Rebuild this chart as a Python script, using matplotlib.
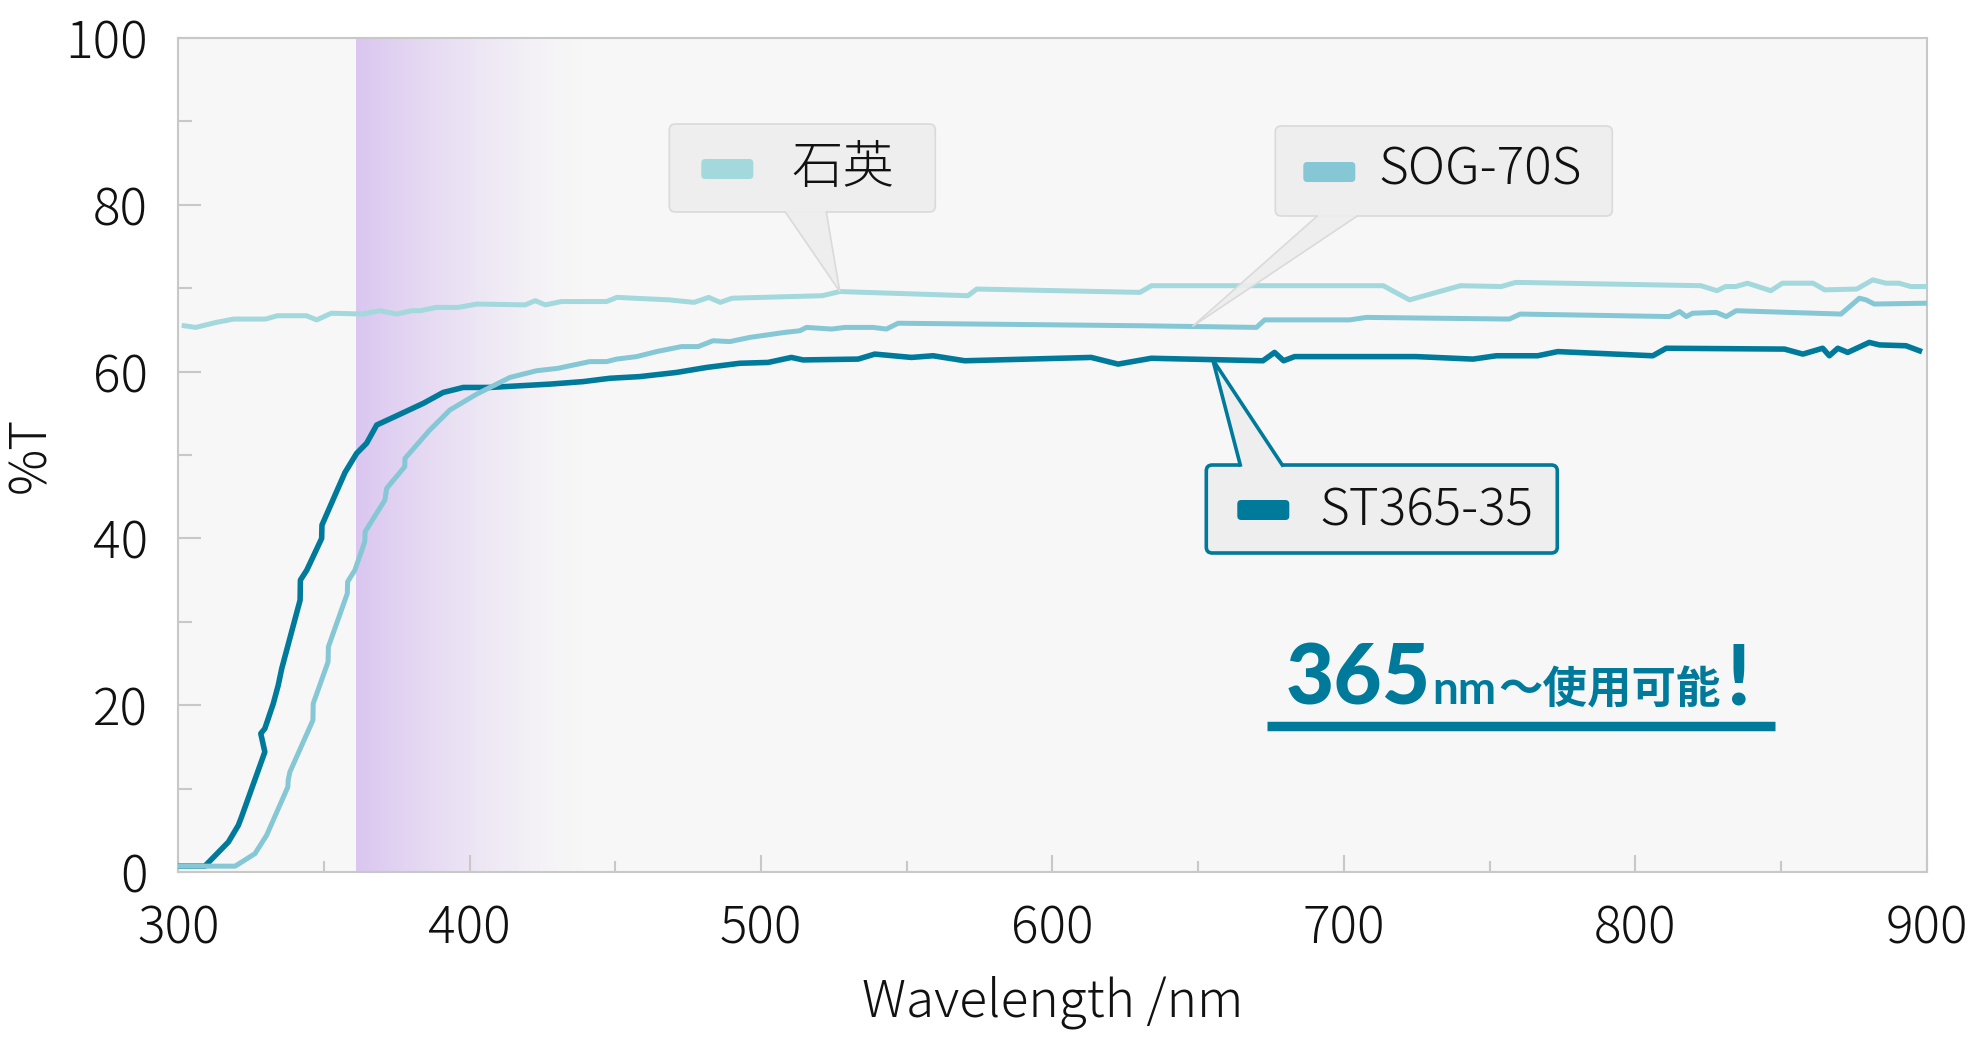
import numpy as np
import matplotlib
matplotlib.use("Agg")
import matplotlib.pyplot as plt
from matplotlib.patches import FancyBboxPatch, Polygon
from matplotlib.lines import Line2D
from matplotlib.transforms import Affine2D
from matplotlib.ticker import MultipleLocator

plt.rcParams['font.family'] = ['Noto Sans CJK JP', 'DejaVu Sans']

# transmission curves (wavelength nm, %T)
quartz_x = [302, 306, 313, 319, 330, 334, 344, 347.5, 352.5, 363.5,
            369, 375, 380, 383, 388.5, 396, 402.5, 419, 422.5, 426,
            431.5, 447, 450.5, 468.5, 477, 482, 486, 490, 521, 527,
            571, 574, 630, 634, 713.5, 722.5, 740, 754, 759, 822.5,
            828, 831, 834.5, 838.5, 846.5, 850.5, 861, 865, 876, 881.5,
            886, 890.5, 894.5, 899.5]
quartz_y = [65.5, 65.3, 65.9, 66.3, 66.3, 66.7, 66.7, 66.2, 67.0, 66.9,
            67.3, 66.9, 67.3, 67.3, 67.7, 67.7, 68.1, 68.0, 68.5, 68.0,
            68.4, 68.4, 68.9, 68.6, 68.3, 68.9, 68.3, 68.8, 69.1, 69.6,
            69.1, 69.9, 69.5, 70.3, 70.3, 68.6, 70.3, 70.2, 70.7, 70.3,
            69.7, 70.2, 70.2, 70.6, 69.7, 70.6, 70.6, 69.8, 69.9, 71.0,
            70.6, 70.6, 70.2, 70.2]

sog_x = [300, 319.5, 326.3, 330.3, 337.6, 337.7, 338.3, 346.2, 346.3, 351.4,
         351.5, 358.0, 358.1, 360.6, 364.0, 364.1, 370.9, 371.5, 377.7, 377.8,
         386.3, 391.5, 393.2, 402.4, 413.8, 422.9, 430.4, 434.4, 441.2, 447,
         450.4, 457.3, 464.1, 472.7, 478.4, 483.5, 489.3, 496.1, 508.1, 513.3,
         515.6, 524.2, 528.7, 538.4, 543, 547, 630, 670, 672.8, 702,
         707.7, 756.8, 760.5, 811.7, 815.2, 817.5, 819.7, 827.8, 831.2, 834.6,
         870.6, 876.9, 879.2, 882, 899.5]
sog_y = [0.7, 0.7, 2.2, 4.4, 10.2, 11.0, 12.0, 18.2, 20.2, 25.2,
         27.0, 33.4, 34.8, 36.2, 39.6, 40.8, 44.6, 46.0, 48.6, 49.6,
         53.0, 54.8, 55.4, 57.3, 59.3, 60.1, 60.4, 60.7, 61.2, 61.2,
         61.5, 61.8, 62.4, 63.0, 63.0, 63.7, 63.6, 64.1, 64.7, 64.9,
         65.3, 65.1, 65.3, 65.3, 65.1, 65.8, 65.5, 65.3, 66.2, 66.2,
         66.5, 66.3, 66.9, 66.6, 67.2, 66.6, 67.0, 67.1, 66.6, 67.3,
         66.9, 68.8, 68.6, 68.1, 68.2]

st_x = [300, 309.1, 317.2, 320.6, 321.7, 329.7, 328.3, 329.7, 332.6, 334.3,
        335.5, 341.8, 341.9, 344.1, 349.2, 349.3, 354.3, 357.2, 361.2, 364.6,
        368.1, 374.9, 384.1, 390.9, 397.8, 406.9, 427.5, 438.9, 448.1, 458.3,
        471, 481.3, 492.7, 502.4, 510.4, 514.4, 533.3, 539, 551.6, 559,
        569.9, 613.3, 622.5, 633.9, 672.2, 676.2, 679.3, 683.1, 724.8, 744.3,
        752.3, 766.5, 773.4, 806, 810.6, 851.2, 857.5, 864.3, 866.6, 869.5,
        872.9, 880.3, 883.8, 892.9, 897.5]
st_y = [0.7, 0.7, 3.6, 5.6, 6.6, 14.4, 16.6, 17.2, 20.2, 22.4,
        24.4, 32.6, 35.0, 36.2, 40.0, 41.6, 45.6, 47.9, 50.2, 51.4,
        53.6, 54.7, 56.2, 57.5, 58.1, 58.1, 58.5, 58.8, 59.2, 59.4,
        59.9, 60.5, 61.0, 61.1, 61.7, 61.4, 61.5, 62.1, 61.7, 61.9,
        61.3, 61.7, 60.9, 61.6, 61.3, 62.3, 61.3, 61.8, 61.8, 61.5,
        61.9, 61.9, 62.4, 61.9, 62.8, 62.7, 62.1, 62.8, 61.9, 62.8,
        62.3, 63.5, 63.2, 63.1, 62.5]

names = ['石英', 'SOG-70S', 'ST365-35']
colors = ['#a3d8dd', '#86c7d5', '#007a9b']
uv_band = [361, 440]          # highlighted UV range
tip_wl = [527, 648, 655]      # where each callout points
slogan = ['365', 'nm', '〜使用可能', '!']

teal = '#007a9b'
ink = '#111111'
lab_w = 'light'

fig = plt.figure(figsize=(19.8, 10.56), dpi=100)
ax = fig.add_axes([0.09005, 0.17424, 0.88303, 0.78977])
ax.set_facecolor('#f7f7f7')

# purple gradient band
t = np.linspace(0, 1, 256)
rgba = np.zeros((1, 256, 4))
rgba[..., 0] = 0.855
rgba[..., 1] = 0.78
rgba[..., 2] = 0.945
rgba[..., 3] = (1 - t) ** 1.4
ax.imshow(rgba, extent=[uv_band[0], uv_band[1], 0, 100], aspect='auto',
          interpolation='bilinear', zorder=1)

ax.plot(st_x, st_y, color=colors[2], lw=4.0, zorder=3, solid_joinstyle='round')
ax.plot(sog_x, sog_y, color=colors[1], lw=3.6, zorder=4, solid_joinstyle='round')
ax.plot(quartz_x, quartz_y, color=colors[0], lw=3.6, zorder=4, solid_joinstyle='round')

ax.set_xlim(300, 900)
ax.set_ylim(0, 100)
ax.xaxis.set_major_locator(MultipleLocator(100))
ax.xaxis.set_minor_locator(MultipleLocator(50))
ax.yaxis.set_major_locator(MultipleLocator(20))
ax.yaxis.set_minor_locator(MultipleLocator(10))
grey = '#c8c8c8'
ax.tick_params(axis='x', which='major', direction='in', length=12, width=1.5,
               color=grey, pad=22, labelsize=37)
ax.tick_params(axis='x', which='minor', direction='in', length=8, width=1.5, color=grey)
ax.tick_params(axis='y', which='major', direction='in', length=16.5, width=1.5,
               color=grey, pad=22, labelsize=37)
ax.tick_params(axis='y', which='minor', direction='in', length=10, width=1.5, color=grey)
for lab in ax.get_xticklabels() + ax.get_yticklabels():
    lab.set_fontweight(lab_w)
    lab.set_color(ink)
for sp in ax.spines.values():
    sp.set_color(grey)
    sp.set_linewidth(1.5)

ax.set_xlabel('Wavelength /nm', fontsize=37, fontweight=lab_w, color=ink, labelpad=14)
ax.set_ylabel('%T', fontsize=37, fontweight=lab_w, color=ink, labelpad=6)

# pixel frame relative to the axes' lower-left corner
ax_w, ax_h = ax.bbox.width, ax.bbox.height
px = Affine2D().scale(1.0 / ax_w, 1.0 / ax_h) + ax.transAxes
to_px = ax.transData + px.inverted()

# callouts: box (u, v, w, h), swatch (u, v, w, h), text (u, v), pointer base (u0, u1)
boxes = [(491, 660, 266, 88), (1097, 656, 337, 90), (1028, 319, 351, 88)]
swatches = [(523, 693, 52, 20), (1125, 690, 52, 20), (1059, 352, 52, 20)]
text_pos = [(613, 704), (1200, 702), (1141, 361)]
bases = [(607, 648), (1139, 1179), (1062, 1104)]
series_x = [quartz_x, sog_x, st_x]
series_y = [quartz_y, sog_y, st_y]

for i in range(3):
    u, v, w, h = boxes[i]
    if i == 2:
        ec, elw, fc = teal, 2.6, '#eeeeee'
    else:
        ec, elw, fc = '#dadada', 1.2, '#eeeeee'
    ax.add_patch(FancyBboxPatch((u, v), w, h, boxstyle='round,pad=0,rounding_size=6',
                                fc=fc, ec=ec, lw=elw, transform=px, zorder=6))
    xs = np.array(series_x[i])
    ys = np.array(series_y[i])
    m = xs > 450
    tip = to_px.transform((tip_wl[i], np.interp(tip_wl[i], xs[m], ys[m])))
    b0, b1 = bases[i]
    if i == 2:
        vb, s = v + h, -4
    else:
        vb, s = v, 4
    ax.add_patch(Polygon([(b0, vb + s), (b0, vb), tuple(tip), (b1, vb), (b1, vb + s)],
                         closed=True, fc=fc, ec='none', alpha=0.9 if i < 2 else 1.0,
                         transform=px, zorder=6.5))
    ax.add_line(Line2D([b0, tip[0], b1], [vb, tip[1], vb], color=ec, lw=elw,
                       transform=px, zorder=6.6, solid_joinstyle='miter'))
    su, sv, sw, sh = swatches[i]
    ax.add_patch(FancyBboxPatch((su, sv), sw, sh, boxstyle='round,pad=0,rounding_size=4',
                                fc=colors[i], ec='none', transform=px, zorder=7))
    ax.text(text_pos[i][0], text_pos[i][1], names[i], transform=px, fontsize=37,
            fontweight=lab_w, color=ink, ha='left', va='center', zorder=7)

# slogan "365nm〜使用可能!"
renderer = fig.canvas.get_renderer()
styles = [(60, ['Lato', 'Noto Sans CJK JP'], 'black'),
          (33, ['Lato', 'Noto Sans CJK JP'], 'bold'),
          (32, ['Noto Sans CJK JP', 'DejaVu Sans'], 'bold'),
          (60, ['Lato', 'Noto Sans CJK JP'], 'black')]
gaps = [1, 2, 6, 0]
texts = []
total = 0
for s, (size, fam, wt), g in zip(slogan, styles, gaps):
    tt = ax.text(0, 168, s, transform=px, fontsize=size, family=fam, fontweight=wt,
                 color=teal, ha='left', va='baseline', zorder=7)
    wdt = tt.get_window_extent(renderer).width
    texts.append((tt, wdt, g))
    total += wdt + g
cur = 1340 - total / 2
for tt, wdt, g in texts:
    tt.set_position((cur, 168))
    cur += wdt + g
ax.add_line(Line2D([1089, 1597], [146.5, 146.5], color=teal, lw=6.8, solid_capstyle='butt',
                   transform=px, zorder=7))

fig.savefig('out.png', dpi=100, facecolor='white')
